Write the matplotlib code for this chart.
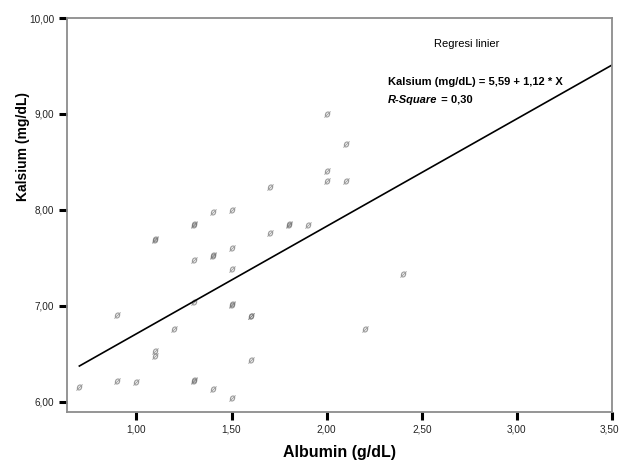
import numpy as np
import matplotlib
matplotlib.use("Agg")
import matplotlib.pyplot as plt
from matplotlib.transforms import offset_copy, ScaledTranslation

plt.rcParams['font.family'] = ['Liberation Sans', 'DejaVu Sans']

# albumin (g/dL) vs kalsium (mg/dL)
albumin = [0.7, 0.9, 0.9, 1.0, 1.1, 1.1, 1.1, 1.1, 1.2, 1.3, 1.3, 1.3, 1.3,
           1.3, 1.3, 1.4, 1.4, 1.4, 1.4, 1.5, 1.5, 1.5, 1.5, 1.5, 1.5, 1.6,
           1.6, 1.6, 1.7, 1.7, 1.8, 1.8, 1.9, 2.0, 2.0, 2.0, 2.1, 2.1, 2.2, 2.4]
kalsium = [6.16, 6.91, 6.22, 6.21, 6.48, 6.53, 7.69, 7.70, 6.76, 6.22, 6.23,
           7.04, 7.48, 7.84, 7.85, 6.13, 7.52, 7.53, 7.98, 6.04, 7.01, 7.02,
           7.39, 7.60, 8.00, 6.44, 6.89, 6.90, 7.76, 8.24, 7.84, 7.85, 7.84,
           8.30, 8.41, 9.00, 8.30, 8.69, 6.76, 7.33]

# regression: kalsium = 5,59 + 1,12 * X
intercept, slope = 5.59, 1.12
fit_x = np.array([0.7, 3.5])

xticks = [1.0, 1.5, 2.0, 2.5, 3.0, 3.5]
yticks = [6.0, 7.0, 8.0, 9.0, 10.0]

def comma(v):
    return f"{v:.2f}".replace('.', ',')

fig = plt.figure(figsize=(6.19, 4.62), dpi=100)
ax = fig.add_axes([67/619, 1-412/462, 545/619, 394/462])

ax.plot(albumin, kalsium, linestyle='none', marker='$ø$', markersize=4.5,
        color='#6e6e6e', alpha=0.65, markeredgewidth=0.2)
ax.plot(fit_x, intercept + slope*fit_x, color='black', linewidth=1.2)

ax.set_xlim(0.635, 3.5)
ax.set_ylim(5.895, 10.0)
ax.set_xticks(xticks, [comma(v) for v in xticks])
ax.set_yticks(yticks, [comma(v) for v in yticks])
ax.tick_params(direction='out', length=6, width=2.2, color='black',
               labelsize=7.2, labelcolor='#222222', pad=3)

# last x label sits slightly left so it stays on the canvas
last = ax.get_xticklabels()[-1]
last.set_transform(last.get_transform() + ScaledTranslation(-3/100, 0, fig.dpi_scale_trans))

for s in ax.spines.values():
    s.set_color('#8c8c8c')
    s.set_linewidth(1.3)

ax.set_xlabel('Albumin (g/dL)', fontsize=11.5, fontweight='bold')
ax.set_ylabel('Kalsium (mg/dL)', fontsize=10, fontweight='bold')
ax.xaxis.set_label_coords(0.50, -0.083)
ax.yaxis.set_label_coords(-0.068, 0.673)

fig.text(467/619, 1-44/462, 'Regresi linier', fontsize=8,
         ha='center', va='center')
fig.text(388/619, 1-82/462, 'Kalsium (mg/dL) = 5,59 + 1,12 * X',
         fontsize=8, fontweight='bold', ha='left', va='center')
rsq = fig.text(388/619, 1-100/462, 'R-Square', fontsize=8,
               fontweight='bold', style='italic', ha='left', va='center')
fig.canvas.draw()
w = rsq.get_window_extent().width
fig.text(388/619, 1-100/462, ' = 0,30', fontsize=8, fontweight='bold',
         ha='left', va='center',
         transform=offset_copy(fig.transFigure, fig=fig, x=w, y=0, units='dots'))

fig.savefig('out.png', dpi=100, facecolor='white')
